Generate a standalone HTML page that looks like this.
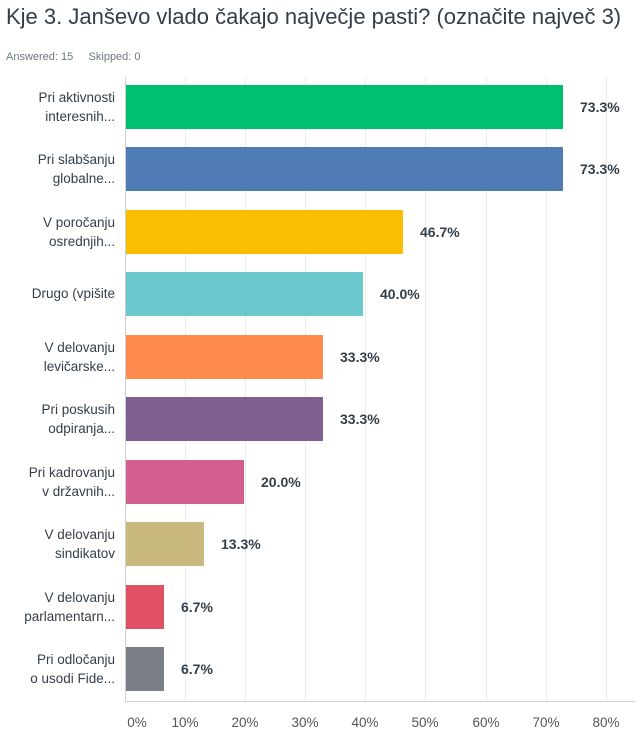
<!DOCTYPE html>
<html><head><meta charset="utf-8"><style>
body{margin:0;width:642px;height:752px;background:#fff;font-family:"Liberation Sans",sans-serif;position:relative;overflow:hidden}
.t{position:absolute;left:6px;top:4px;font-size:22px;color:#333e48;white-space:nowrap}
.s{position:absolute;left:6px;top:51px;font-size:11px;color:#6b787f}
.g{position:absolute;top:77px;height:624px;width:1px;background:#ececec}
.ax{position:absolute;left:125px;top:77px;width:1px;height:624px;background:#d0d0d0}
.bx{position:absolute;left:125px;top:701px;width:510px;height:1px;background:#d0d0d0}
.b{position:absolute;left:126px;height:44px}
.l{position:absolute;right:527px;width:125px;text-align:right;font-size:13.5px;line-height:19px;color:#333e48;white-space:nowrap}
.p{position:absolute;font-size:14px;font-weight:bold;color:#333e48}
.x{position:absolute;top:715px;font-size:13.5px;color:#555;width:40px;text-align:center}
</style></head><body>
<div class="t">Kje 3. Janševo vlado čakajo največje pasti? (označite največ 3)</div>
<div class="s">Answered: 15&nbsp;&nbsp;&nbsp;&nbsp;&nbsp;Skipped: 0</div>
<div class="g" style="left:185px"></div><div class="g" style="left:245px"></div><div class="g" style="left:305px"></div><div class="g" style="left:365px"></div><div class="g" style="left:425px"></div><div class="g" style="left:486px"></div><div class="g" style="left:546px"></div><div class="g" style="left:606px"></div>
<div class="ax"></div><div class="bx"></div>

<div class="b" style="top:85px;width:437px;background:#00bf6f"></div><div class="l" style="top:88px">Pri aktivnosti<br>interesnih...</div><div class="p" style="top:99px;left:580px">73.3%</div>
<div class="b" style="top:147px;width:437px;background:#507cb6"></div><div class="l" style="top:150px">Pri slabšanju<br>globalne...</div><div class="p" style="top:161px;left:580px">73.3%</div>
<div class="b" style="top:210px;width:277px;background:#f9be00"></div><div class="l" style="top:213px">V poročanju<br>osrednjih...</div><div class="p" style="top:224px;left:420px">46.7%</div>
<div class="b" style="top:272px;width:237px;background:#6bc8cd"></div><div class="l" style="top:284px">Drugo (vpišite</div><div class="p" style="top:286px;left:380px">40.0%</div>
<div class="b" style="top:335px;width:197px;background:#ff8b4f"></div><div class="l" style="top:338px">V delovanju<br>levičarske...</div><div class="p" style="top:349px;left:340px">33.3%</div>
<div class="b" style="top:397px;width:197px;background:#7f5f90"></div><div class="l" style="top:400px">Pri poskusih<br>odpiranja...</div><div class="p" style="top:411px;left:340px">33.3%</div>
<div class="b" style="top:460px;width:118px;background:#d25f90"></div><div class="l" style="top:463px">Pri kadrovanju<br>v državnih...</div><div class="p" style="top:474px;left:261px">20.0%</div>
<div class="b" style="top:522px;width:78px;background:#c9b97e"></div><div class="l" style="top:525px">V delovanju<br>sindikatov</div><div class="p" style="top:536px;left:221px">13.3%</div>
<div class="b" style="top:585px;width:38px;background:#e05263"></div><div class="l" style="top:588px">V delovanju<br>parlamentarn...</div><div class="p" style="top:599px;left:181px">6.7%</div>
<div class="b" style="top:647px;width:38px;background:#7a7f86"></div><div class="l" style="top:650px">Pri odločanju<br>o usodi Fide...</div><div class="p" style="top:661px;left:181px">6.7%</div>

<div class="x" style="left:117px">0%</div><div class="x" style="left:165px">10%</div><div class="x" style="left:225px">20%</div><div class="x" style="left:285px">30%</div><div class="x" style="left:345px">40%</div><div class="x" style="left:405px">50%</div><div class="x" style="left:466px">60%</div><div class="x" style="left:526px">70%</div><div class="x" style="left:586px">80%</div>
</body></html>
